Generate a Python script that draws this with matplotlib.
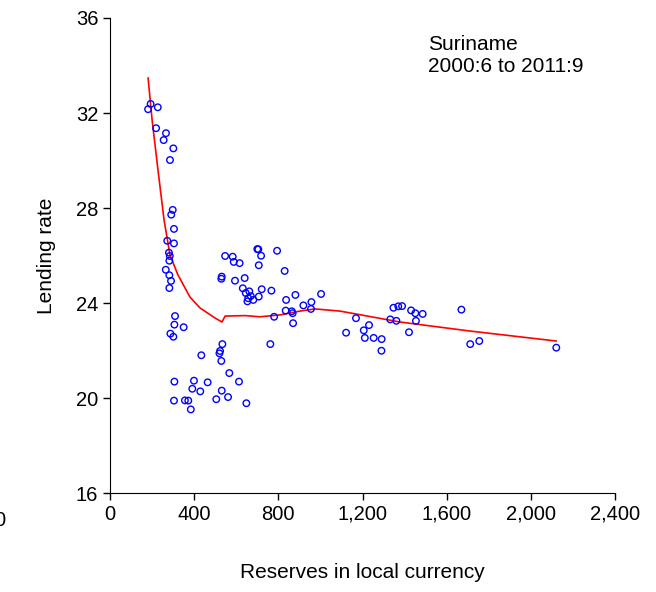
import matplotlib
matplotlib.use("Agg")
import matplotlib.pyplot as plt
from matplotlib.ticker import FuncFormatter

plt.rcParams["font.family"] = ["Liberation Sans", "DejaVu Sans"]

# reserves (local currency) and lending rate
reserves = [193, 181, 227, 219, 266, 255, 301, 285, 298, 291, 304, 272, 304, 280, 284,
            282, 265, 282, 290, 282, 309, 306, 350, 287, 301, 306, 304, 356, 372, 384,
            399, 391, 429, 464, 434, 534, 523, 520, 529, 567, 613, 531, 505, 561, 648,
            547, 583, 588, 616, 531, 529, 594, 640, 700, 705, 718, 707, 794, 830, 631,
            645, 662, 669, 657, 653, 681, 707, 721, 767, 837, 881, 919, 957, 1003, 955,
            835, 864, 868, 870, 780, 762, 1169, 1122, 1206, 1231, 1211, 1253, 1291, 1290,
            1332, 1361, 1347, 1370, 1388, 1431, 1451, 1486, 1454, 1421, 1670, 1712, 1755,
            2121]
lending = [32.38, 32.16, 32.24, 31.36, 31.15, 30.86, 30.51, 30.02, 27.92, 27.72, 27.12,
           26.62, 26.51, 26.12, 25.98, 25.78, 25.40, 25.17, 24.93, 24.63, 23.45, 23.09,
           22.98, 22.71, 22.58, 20.69, 19.89, 19.90, 19.89, 19.52, 20.73, 20.39, 20.28,
           20.66, 21.80, 22.27, 21.98, 21.88, 21.56, 21.05, 20.69, 20.31, 19.95, 20.04,
           19.78, 25.98, 25.95, 25.73, 25.68, 25.11, 25.02, 24.94, 25.05, 26.27, 26.26,
           25.99, 25.59, 26.20, 25.35, 24.62, 24.42, 24.49, 24.29, 24.20, 24.07, 24.13,
           24.27, 24.58, 24.52, 24.13, 24.34, 23.90, 24.04, 24.38, 23.75, 23.68, 23.65,
           23.57, 23.15, 23.42, 22.27, 23.36, 22.75, 22.85, 23.07, 22.53, 22.53, 22.48,
           21.99, 23.31, 23.25, 23.80, 23.86, 23.87, 23.69, 23.57, 23.54, 23.25, 22.77,
           23.72, 22.27, 22.40, 22.12]

# smoothed fit line
fit_x = [181, 200, 228, 257, 285, 323, 380, 428, 499, 532, 547, 642, 713, 808, 903,
         975, 1093, 1378, 1711, 2120]
fit_y = [33.47, 31.71, 29.60, 27.49, 26.02, 25.18, 24.25, 23.79, 23.37, 23.20, 23.45,
         23.47, 23.42, 23.50, 23.66, 23.75, 23.66, 23.20, 22.82, 22.40]

fig = plt.figure(figsize=(6.56, 5.92), dpi=100, facecolor="white")
ax = fig.add_axes([0.1677, 0.1672, 0.7698, 0.8024])

ax.plot(fit_x, fit_y, color="red", lw=1.2, zorder=2)
ax.scatter(reserves, lending, s=22, facecolors="none", edgecolors="blue",
           linewidths=1.0, zorder=3)

ax.set_xlim(0, 2400)
ax.set_ylim(16, 36)
ax.set_xticks([0, 400, 800, 1200, 1600, 2000, 2400])
ax.set_yticks([16, 20, 24, 28, 32, 36])
ax.xaxis.set_major_formatter(FuncFormatter(lambda v, p: f"{int(v):,}"))
ax.tick_params(direction="out", length=5, labelsize=14.5, width=1)
ax.spines["top"].set_visible(False)
ax.spines["right"].set_visible(False)

ax.set_xlabel("Reserves in local currency", fontsize=15, labelpad=28)
ax.set_ylabel("Lending rate", fontsize=15, labelpad=14)

ax.text(0.63, 0.965, "Suriname\n2000:6 to 2011:9", transform=ax.transAxes,
        ha="left", va="top", fontsize=15, linespacing=1.25)
fig.text(0.0, 1 - 520 / 592, "0", ha="center", va="center", fontsize=14.5)

fig.savefig("out.png", dpi=100, facecolor="white")
